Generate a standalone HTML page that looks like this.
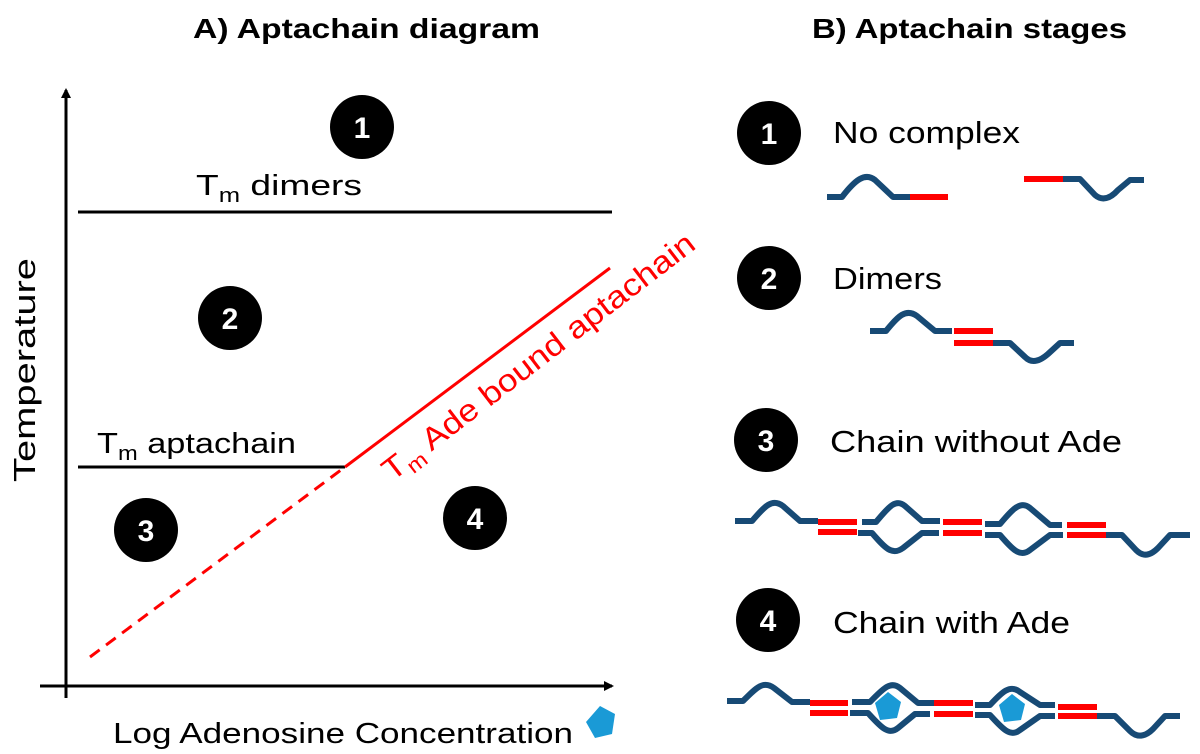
<!DOCTYPE html>
<html><head><style>body{margin:0;background:#fff}svg{display:block}</style></head><body>
<svg width="1200" height="754" viewBox="0 0 1200 754" xmlns="http://www.w3.org/2000/svg" font-family="Liberation Sans, sans-serif">
<defs>
<marker id="ar" markerWidth="10" markerHeight="10" refX="8" refY="5" orient="auto" markerUnits="userSpaceOnUse"><path d="M0,0 L10,5 L0,10 Z" fill="#000"/></marker>
</defs>
<text x="193" y="38" font-size="28" font-weight="bold" textLength="347" lengthAdjust="spacingAndGlyphs">A) Aptachain diagram</text>
<text x="812" y="38" font-size="28" font-weight="bold" textLength="315" lengthAdjust="spacingAndGlyphs">B) Aptachain stages</text>
<line x1="66" y1="698" x2="66" y2="90" stroke="#000" stroke-width="3" marker-end="url(#ar)"/>
<line x1="40" y1="686" x2="612" y2="686" stroke="#000" stroke-width="3" marker-end="url(#ar)"/>
<line x1="78" y1="212" x2="612" y2="212" stroke="#000" stroke-width="3"/>
<line x1="78" y1="467" x2="345" y2="467" stroke="#000" stroke-width="3"/>
<line x1="345" y1="467" x2="610" y2="268" stroke="#f00" stroke-width="3"/>
<line x1="90" y1="657" x2="345" y2="467" stroke="#f00" stroke-width="3" stroke-dasharray="12,8"/>
<text x="196" y="195" font-size="29" textLength="166" lengthAdjust="spacingAndGlyphs">T<tspan font-size="20" dy="7">m</tspan><tspan dy="-7"> dimers</tspan></text>
<text x="97" y="453" font-size="29" textLength="199" lengthAdjust="spacingAndGlyphs">T<tspan font-size="20" dy="7">m</tspan><tspan dy="-7"> aptachain</tspan></text>
<text transform="translate(392,482) rotate(-37.5)" font-size="31" fill="#f00" textLength="385" lengthAdjust="spacingAndGlyphs">T<tspan font-size="21" dy="7">m</tspan><tspan dy="-7"> Ade bound aptachain</tspan></text>
<text transform="translate(35,482) rotate(-90)" font-size="31" textLength="224" lengthAdjust="spacingAndGlyphs">Temperature</text>
<text x="113" y="743" font-size="29" textLength="460" lengthAdjust="spacingAndGlyphs">Log Adenosine Concentration</text>
<polygon points="600,706 615,714 612,734 595,738 586,722" fill="#1a9ad6"/>
<g fill="#000">
<circle cx="362" cy="127" r="32"/><circle cx="230" cy="318" r="32"/><circle cx="146" cy="530" r="32"/><circle cx="475" cy="518" r="32"/>
<circle cx="769" cy="133" r="32"/><circle cx="769" cy="278" r="32"/><circle cx="766" cy="440" r="32"/><circle cx="768" cy="620" r="32"/>
</g>
<g fill="#fff" font-size="30" font-weight="bold" text-anchor="middle">
<text x="362" y="138">1</text><text x="230" y="329">2</text><text x="146" y="541">3</text><text x="475" y="529">4</text>
<text x="769" y="144">1</text><text x="769" y="289">2</text><text x="766" y="451">3</text><text x="768" y="631">4</text>
</g>
<g font-size="31">
<text x="833" y="143" textLength="187" lengthAdjust="spacingAndGlyphs">No complex</text>
<text x="833" y="289" textLength="109" lengthAdjust="spacingAndGlyphs">Dimers</text>
<text x="830" y="452" textLength="292" lengthAdjust="spacingAndGlyphs">Chain without Ade</text>
<text x="833" y="633" textLength="237" lengthAdjust="spacingAndGlyphs">Chain with Ade</text>
</g>
<g fill="none" stroke="#174a75" stroke-width="6" stroke-linejoin="round">
<path d="M827,197 H842 C855,180 865,172 875,180 L893,197 H910"/>
<path d="M1063,179 H1080 L1095,195 C1102,201 1110,199 1118,190 L1130,180 H1144"/>
<path d="M870,331 H886 C898,316 906,308 917,316 L935,331 H952"/>
<path d="M993,343 H1010 L1025,357 C1032,364 1040,361 1048,354 L1060,343 H1074"/>
<path d="M735,521 H752 C765,506 772,498 783,506 L800,521 H818"/>
<path d="M862,522 H876 C888,508 895,498 905,506 L922,521 H940"/>
<path d="M858,533 H872 C885,548 892,556 903,548 L922,533 H939"/>
<path d="M985,524 H1000 C1012,510 1020,500 1030,508 L1050,525 H1062"/>
<path d="M985,535 H1000 C1012,549 1020,558 1030,550 L1050,535 H1063"/>
<path d="M1106,535 H1122 L1136,550 C1143,557 1150,556 1158,548 L1170,535 H1190"/>
<path d="M727,701 H743 C756,688 763,680 774,688 L792,702 H810"/>
<path d="M852,702 H870 C882,690 890,680 900,688 L918,703 H934"/>
<path d="M850,713 H868 C880,726 888,736 898,728 L915,714 H930"/>
<path d="M975,705 H990 C1002,692 1010,684 1020,692 L1040,705 H1055"/>
<path d="M975,715 H990 C1002,728 1010,738 1020,730 L1040,716 H1055"/>
<path d="M1097,716 H1115 L1130,731 C1137,738 1145,737 1153,729 L1165,716 H1180"/>
</g>
<g stroke="#f00" stroke-width="6">
<line x1="910" y1="197" x2="948" y2="197"/><line x1="1024" y1="179" x2="1063" y2="179"/>
<line x1="954" y1="331" x2="993" y2="331"/><line x1="954" y1="343" x2="993" y2="343"/>
<line x1="818" y1="522" x2="857" y2="522"/><line x1="818" y1="532" x2="857" y2="532"/>
<line x1="943" y1="522" x2="982" y2="522"/><line x1="943" y1="533" x2="982" y2="533"/>
<line x1="1067" y1="525" x2="1106" y2="525"/><line x1="1067" y1="535" x2="1106" y2="535"/>
<line x1="810" y1="703" x2="848" y2="703"/><line x1="810" y1="713" x2="848" y2="713"/>
<line x1="934" y1="703" x2="973" y2="703"/><line x1="934" y1="714" x2="973" y2="714"/>
<line x1="1058" y1="707" x2="1097" y2="707"/><line x1="1058" y1="716" x2="1097" y2="716"/>
</g>
<polygon points="888,692 901,702 897,718 880,720 875,703" fill="#1a9ad6"/>
<polygon points="1012,694 1025,704 1021,720 1004,722 999,705" fill="#1a9ad6"/>
</svg>
</body></html>
